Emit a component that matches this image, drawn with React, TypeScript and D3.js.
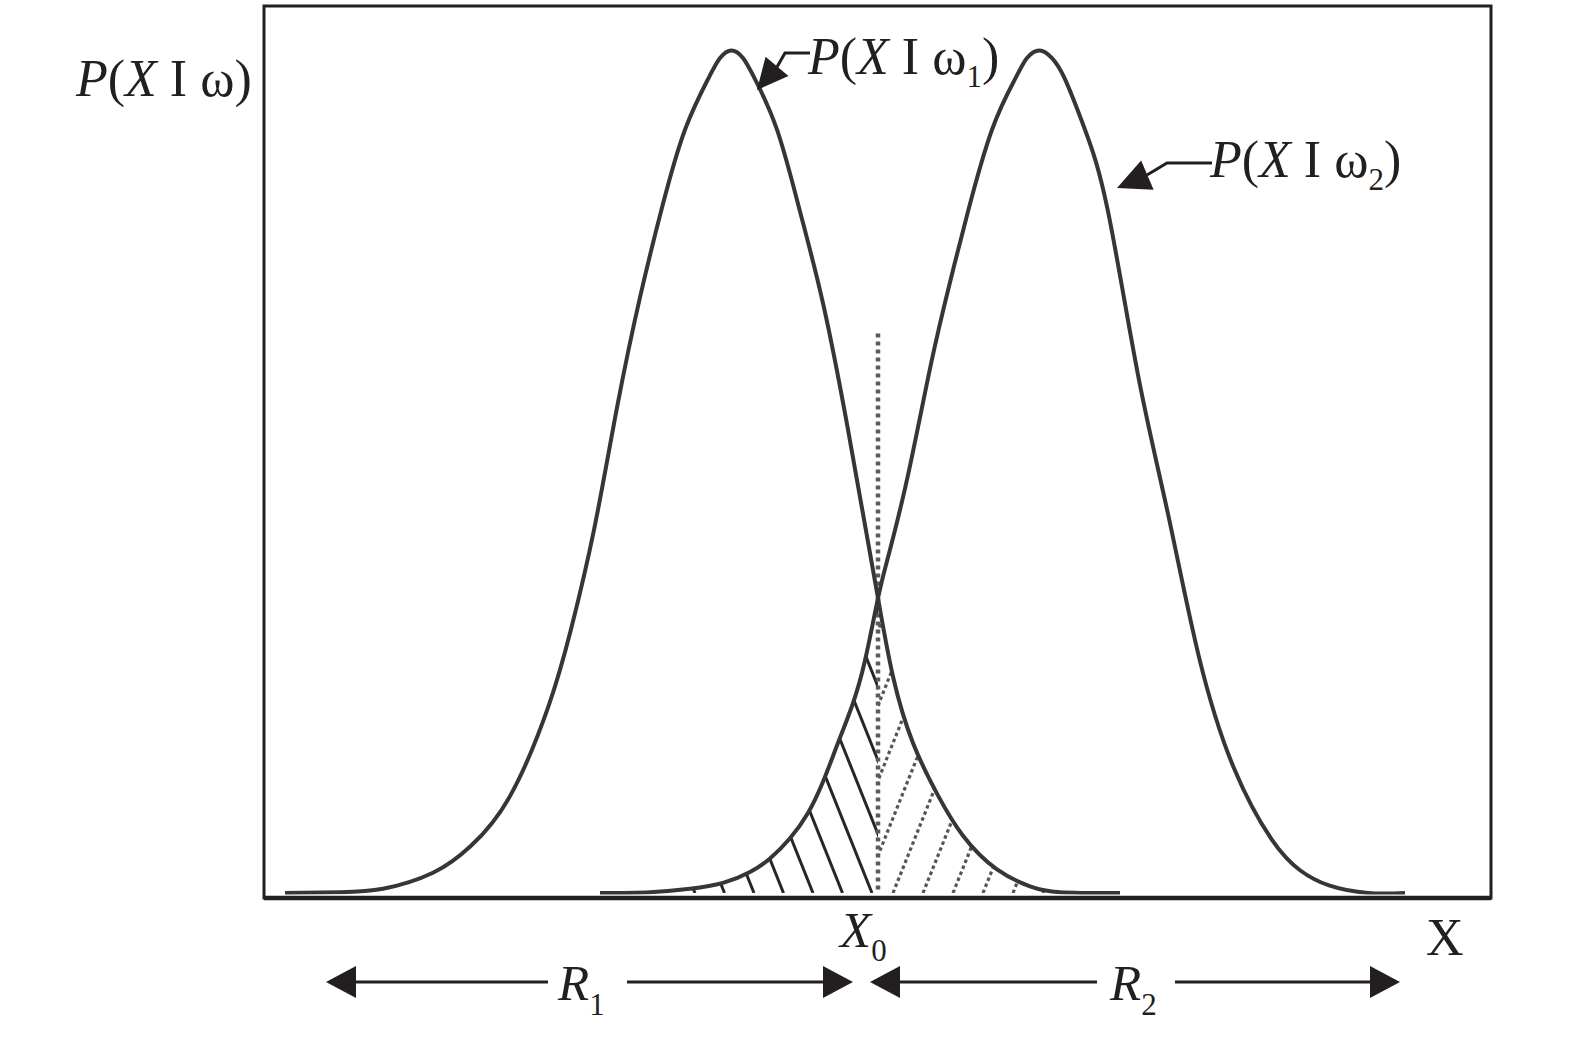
import React from "react";
import * as d3 from "d3";

// Class-conditional density P(X | ω1) (x in diagram units, X0 = 0; value relative to peak)
const curve1X = [-5.93, -5.38, -4.95, -4.45, -4.07, -3.68, -3.3, -3.07, -2.84, -2.61, -2.38, -2.15, -1.93, -1.7, -1.58, -1.465, -1.35, -1.23, -1.01, -0.78, -0.55, -0.32, -0.12, 0, 0.15, 0.35, 0.59, 0.85, 1.19, 1.52, 1.82, 2.42];
const curve1Y = [0, 0.001, 0.005, 0.024, 0.056, 0.115, 0.22, 0.313, 0.431, 0.576, 0.707, 0.818, 0.906, 0.966, 0.991, 1.0, 0.991, 0.966, 0.906, 0.809, 0.7, 0.563, 0.43, 0.35, 0.257, 0.178, 0.118, 0.068, 0.028, 0.008, 0.001, 0];

// Class-conditional density P(X | ω2)
const curve2X = [-2.78, -2.28, -1.88, -1.55, -1.28, -1.08, -0.88, -0.7, -0.55, -0.41, -0.26, -0.13, 0, 0.11, 0.3, 0.53, 0.72, 0.9, 1.14, 1.37, 1.49, 1.615, 1.74, 1.87, 2.07, 2.3, 2.6, 2.9, 3.21, 3.56, 3.94, 4.22, 4.51, 4.9, 5.27];
const curve2Y = [0, 0.001, 0.005, 0.012, 0.025, 0.041, 0.065, 0.095, 0.132, 0.175, 0.222, 0.276, 0.35, 0.403, 0.496, 0.628, 0.725, 0.809, 0.906, 0.966, 0.991, 1.0, 0.991, 0.966, 0.906, 0.809, 0.615, 0.45, 0.28, 0.148, 0.063, 0.027, 0.009, 0, 0];

// Decision threshold X0 and the top of its dotted marker
const thresholdX = [0];
const thresholdTop = [0.664];

// Text labels
const yAxisLabel = { a: "P", b: "(", c: "X", d: " I ω", e: ")" };
const seriesNames = ["1", "2"];
const regionNames = ["1", "2"];
const xAxisLabel = "X";

const FONT = "'Liberation Serif', 'Times New Roman', 'DejaVu Serif', serif";

type Pt = [number, number];

function arrowHead(tipX: number, tipY: number, fromX: number, fromY: number, len: number, half: number) {
  const dx = fromX - tipX;
  const dy = fromY - tipY;
  const L = Math.hypot(dx, dy);
  const ux = dx / L;
  const uy = dy / L;
  const bx = tipX + ux * len;
  const by = tipY + uy * len;
  const px = -uy;
  const py = ux;
  return `${tipX},${tipY} ${bx + px * half},${by + py * half} ${bx - px * half},${by - py * half}`;
}

export default function App() {
  const W = 1575;
  const H = 1043;
  const x = d3.scaleLinear().domain([-6.14, 6.13]).range([264, 1491]);
  const y = d3.scaleLinear().domain([0, 1]).range([893, 50.5]);

  const c1: Pt[] = curve1X.map((d, i) => [d, curve1Y[i]]);
  const c2: Pt[] = curve2X.map((d, i) => [d, curve2Y[i]]);

  const smooth = d3.curveNatural;
  const line = d3
    .line<Pt>()
    .x((d) => x(d[0]))
    .y((d) => y(d[1]))
    .curve(smooth);
  const area = d3
    .area<Pt>()
    .x((d) => x(d[0]))
    .y0(y(0))
    .y1((d) => y(d[1]))
    .curve(smooth);

  const x0 = x(thresholdX[0]);
  const base = y(0);
  const slope = 0.4;
  const hLen = 900;

  // solid hatch (error region under ω2 left of X0), "\" direction
  const solidHatch = d3.range(-8, 12).map((k) => {
    const xb = x0 - 6 - 29.5 * k;
    return { x1: xb, y1: base, x2: xb - slope * hLen, y2: base - hLen };
  });
  // dotted hatch (error region under ω1 right of X0), "/" direction
  const dottedHatch = d3.range(-8, 8).map((k) => {
    const xb = x0 + 15 + 30 * k;
    return { x1: xb, y1: base, x2: xb + slope * hLen, y2: base - hLen };
  });

  const curveColor = "#363636";
  const ink = "#231f20";

  return (
    <div style={{ position: "absolute", left: 0, top: 0 }}>
      <svg width={W} height={H} style={{ display: "block", background: "#fff" }}>
        <defs>
          <clipPath id="leftOfX0">
            <rect x={0} y={0} width={x0} height={H} />
          </clipPath>
          <clipPath id="rightOfX0">
            <rect x={x0} y={0} width={W - x0} height={H} />
          </clipPath>
          <clipPath id="under2">
            <path d={area(c2) || ""} />
          </clipPath>
          <clipPath id="under1">
            <path d={area(c1) || ""} />
          </clipPath>
          <clipPath id="plotArea">
            <rect x={264} y={6} width={1227} height={base - 6 + 1.5} />
          </clipPath>
        </defs>

        {/* hatching */}
        <g clipPath="url(#leftOfX0)">
          <g clipPath="url(#under2)">
            {solidHatch.map((l, i) => (
              <line key={i} {...l} stroke="#262626" strokeWidth={3} />
            ))}
          </g>
        </g>
        <g clipPath="url(#rightOfX0)">
          <g clipPath="url(#under1)">
            {dottedHatch.map((l, i) => (
              <line key={i} {...l} stroke="#555" strokeWidth={3.2} strokeDasharray="3.5 3" />
            ))}
          </g>
        </g>

        {/* threshold X0 dotted marker */}
        <line
          x1={x0}
          x2={x0}
          y1={y(thresholdTop[0])}
          y2={base}
          stroke="#5a5a5a"
          strokeWidth={4.5}
          strokeDasharray="4 4"
        />

        {/* curves */}
        <g clipPath="url(#plotArea)">
          <path d={line(c1) || ""} fill="none" stroke={curveColor} strokeWidth={4} strokeLinejoin="round" />
          <path d={line(c2) || ""} fill="none" stroke={curveColor} strokeWidth={4} strokeLinejoin="round" />
        </g>

        {/* frame */}
        <rect x={264} y={6} width={1227} height={892} fill="none" stroke={ink} strokeWidth={3} />
        <line x1={264} x2={1491} y1={898} y2={898} stroke={ink} strokeWidth={4.5} />

        {/* y-axis label */}
        <text x={76} y={96} fontFamily={FONT} fontSize={52} fill={ink}>
          <tspan fontStyle="italic">{yAxisLabel.a}</tspan>
          <tspan>{yAxisLabel.b}</tspan>
          <tspan fontStyle="italic">{yAxisLabel.c}</tspan>
          <tspan>{yAxisLabel.d}</tspan>
          <tspan>{yAxisLabel.e}</tspan>
        </text>

        {/* series label ω1 */}
        <polyline points="810,53 785,53 777,67" fill="none" stroke={ink} strokeWidth={3} />
        <polygon points={arrowHead(757, 90, 779, 64, 31, 15)} fill={ink} />
        <text x={808} y={74} fontFamily={FONT} fontSize={52} fill={ink}>
          <tspan fontStyle="italic">P</tspan>
          <tspan>(</tspan>
          <tspan fontStyle="italic">X</tspan>
          <tspan> I ω</tspan>
          <tspan fontSize={31} dy={13}>{seriesNames[0]}</tspan>
          <tspan dy={-13}>)</tspan>
        </text>

        {/* series label ω2 */}
        <polyline points="1212,163 1167,163 1147,175" fill="none" stroke={ink} strokeWidth={3} />
        <polygon points={arrowHead(1117, 188, 1150, 174, 33, 16)} fill={ink} />
        <text x={1210} y={177} fontFamily={FONT} fontSize={52} fill={ink}>
          <tspan fontStyle="italic">P</tspan>
          <tspan>(</tspan>
          <tspan fontStyle="italic">X</tspan>
          <tspan> I ω</tspan>
          <tspan fontSize={31} dy={13}>{seriesNames[1]}</tspan>
          <tspan dy={-13}>)</tspan>
        </text>

        {/* X0 label */}
        <text x={x0 - 38} y={947} fontFamily={FONT} fontSize={51} fill={ink}>
          <tspan fontStyle="italic">X</tspan>
          <tspan fontSize={31} dy={14}>0</tspan>
        </text>

        {/* x-axis label */}
        <text x={1426} y={955} fontFamily={FONT} fontSize={52} fill={ink}>
          {xAxisLabel}
        </text>

        {/* region arrows */}
        <line x1={350} x2={548} y1={982} y2={982} stroke={ink} strokeWidth={3} />
        <polygon points={arrowHead(326, 982, 400, 982, 30, 16)} fill={ink} />
        <line x1={627} x2={828} y1={982} y2={982} stroke={ink} strokeWidth={3} />
        <polygon points={arrowHead(853, 982, 800, 982, 30, 16)} fill={ink} />
        <text x={558} y={1000} fontFamily={FONT} fontSize={51} fill={ink}>
          <tspan fontStyle="italic">R</tspan>
          <tspan fontSize={31} dy={15}>{regionNames[0]}</tspan>
        </text>

        <line x1={895} x2={1097} y1={982} y2={982} stroke={ink} strokeWidth={3} />
        <polygon points={arrowHead(870, 982, 950, 982, 30, 16)} fill={ink} />
        <line x1={1175} x2={1375} y1={982} y2={982} stroke={ink} strokeWidth={3} />
        <polygon points={arrowHead(1400, 982, 1300, 982, 30, 16)} fill={ink} />
        <text x={1110} y={1000} fontFamily={FONT} fontSize={51} fill={ink}>
          <tspan fontStyle="italic">R</tspan>
          <tspan fontSize={31} dy={15}>{regionNames[1]}</tspan>
        </text>
      </svg>
    </div>
  );
}
